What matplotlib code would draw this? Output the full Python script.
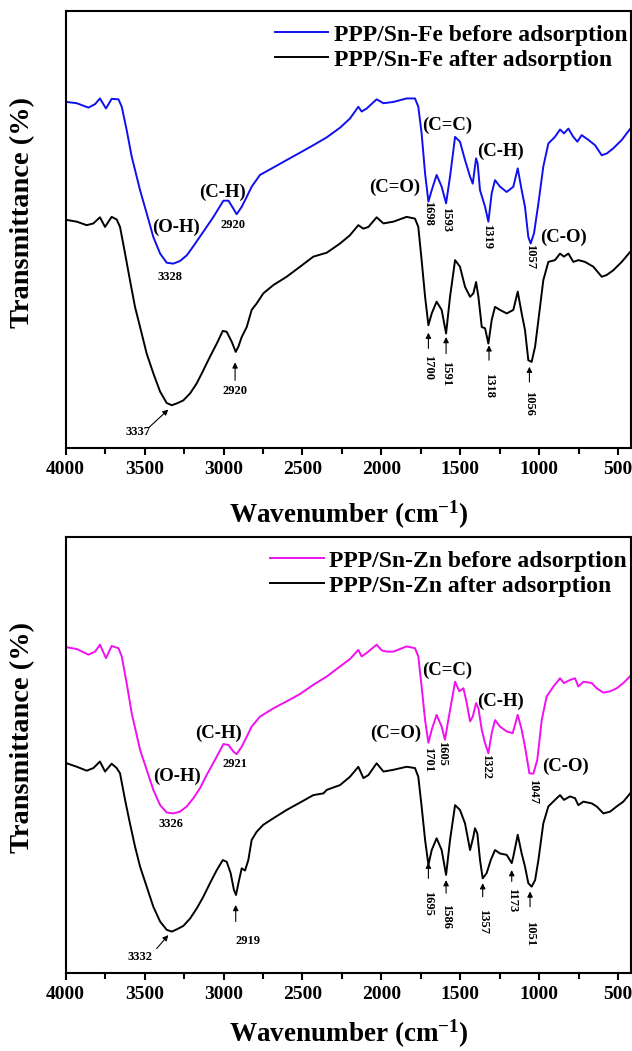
import numpy as np
import matplotlib
matplotlib.use("Agg")
import matplotlib.pyplot as plt

plt.rcParams["font.family"] = "Liberation Serif"
plt.rcParams["font.weight"] = "bold"
plt.rcParams["mathtext.fontset"] = "custom"
plt.rcParams["mathtext.rm"] = "Liberation Serif:bold"
plt.rcParams["mathtext.it"] = "Liberation Serif:bold:italic"
plt.rcParams["mathtext.bf"] = "Liberation Serif:bold"

# ---- PPP/Sn-Fe (top panel), wavenumber in cm-1, transmittance in arbitrary % ----
fe_before_wn = [3994, 3930, 3856, 3814, 3783, 3745, 3709, 3666, 3645,
                3614, 3582, 3529, 3487, 3445, 3402, 3360, 3318, 3276, 3233, 3191, 3128, 3064, 3001,
                2969, 2938, 2917, 2885, 2853, 2822, 2769, 2684, 2600, 2515, 2431, 2346,
                2262, 2199, 2146, 2125, 2093, 2030, 1987, 1924, 1840, 1787, 1766, 1745, 1723, 1702,
                1681, 1650, 1618, 1590, 1565, 1533, 1502, 1470, 1438, 1421, 1400, 1390, 1375, 1343,
                1322, 1301, 1280, 1248, 1206, 1164, 1136, 1111, 1090, 1069, 1054, 1033, 1005, 974,
                942, 900, 868, 843, 815, 784, 758, 731, 688, 646, 604, 572, 530, 477, 414]
fe_before_t = [79.2, 78.9, 77.9, 78.7, 80.0, 77.7, 79.9, 79.8, 78.1,
               72.8, 66.7, 59.0, 53.7, 48.3, 44.5, 42.4, 42.2, 42.8, 44.1, 46.2, 49.5, 52.9, 56.6,
               56.6, 54.8, 53.5, 55.2, 57.5, 59.8, 62.5, 64.2, 65.9, 67.6, 69.3, 71.1,
               73.3, 75.4, 78.1, 77.0, 77.7, 79.8, 78.9, 79.2, 80.0, 80.0, 78.1, 72.0, 62.8, 56.4,
               59.0, 62.5, 59.8, 56.0, 62.1, 71.2, 70.1, 65.9, 62.1, 60.5, 66.3, 65.1, 59.0, 55.2,
               51.8, 58.3, 61.3, 59.8, 58.6, 59.8, 64.0, 59.0, 55.2, 48.3, 46.8, 49.1, 56.0, 64.4,
               69.7, 71.2, 72.9, 72.0, 73.1, 71.2, 70.1, 71.6, 70.5, 69.3, 67.0, 67.4, 68.6, 70.5, 73.5]

fe_after_wn = [3994, 3930, 3867, 3825, 3783, 3751, 3709, 3677, 3656, 3624,
               3593, 3561, 3529, 3487, 3445, 3402, 3360, 3328, 3297, 3255,
               3212, 3170, 3128, 3086, 3043, 3005, 2980, 2948, 2923, 2906,
               2885, 2853, 2822, 2790, 2748, 2684, 2600, 2515, 2431, 2346,
               2262, 2199, 2146, 2114, 2082, 2030, 1987, 1924, 1840, 1787,
               1766, 1745, 1723, 1702, 1681, 1650, 1618, 1590, 1565, 1533,
               1502, 1470, 1438, 1417, 1400, 1385, 1364, 1343, 1322, 1301,
               1280, 1248, 1206, 1164, 1136, 1111, 1090, 1069, 1048, 1026,
               1005, 974, 942, 900, 868, 843, 815, 784, 752, 710,
               657, 604, 572, 530, 477, 414]
fe_after_t = [52.2, 51.8, 51.0, 51.4, 52.8, 50.6, 52.9, 52.3, 50.6, 44.5,
              38.4, 32.3, 27.7, 21.6, 17.1, 12.9, 10.3, 9.8, 10.2, 10.9,
              12.5, 14.8, 17.8, 20.9, 23.9, 26.8, 26.6, 24.3, 22.0, 23.2,
              25.4, 27.7, 31.6, 33.1, 35.4, 37.3, 39.2, 41.5, 43.8, 44.7,
              46.8, 48.7, 51.0, 50.2, 50.6, 52.8, 51.4, 51.8, 52.9, 52.5,
              50.6, 43.0, 34.6, 28.1, 30.8, 33.5, 31.6, 26.2, 34.6, 43.0,
              41.5, 36.9, 34.6, 35.4, 38.0, 34.6, 27.7, 27.4, 23.9, 29.3,
              32.3, 31.6, 30.8, 31.6, 35.8, 30.8, 27.0, 20.1, 19.7, 23.2,
              29.3, 38.4, 42.6, 43.0, 44.5, 43.8, 44.5, 42.6, 43.0, 42.6,
              41.5, 39.2, 39.6, 40.7, 42.6, 45.3]

# ---- PPP/Sn-Zn (bottom panel) ----
zn_before_wn = [3994, 3930, 3856, 3814, 3783, 3745, 3709, 3666, 3645, 3614,
                3582, 3529, 3487, 3445, 3402, 3360, 3318, 3276, 3233, 3191,
                3149, 3107, 3054, 3001, 2969, 2938, 2917, 2885, 2853, 2822,
                2769, 2684, 2600, 2515, 2431, 2346,
                2262, 2199, 2146, 2125, 2093, 2030, 1998, 1966, 1924, 1840,
                1787, 1766, 1745, 1723, 1702, 1681, 1650, 1618, 1597, 1576,
                1533, 1506, 1480, 1459, 1438, 1421, 1400, 1385, 1364, 1343,
                1322, 1301, 1280, 1248, 1206, 1168, 1136, 1111, 1090, 1062,
                1037, 1012, 984, 953, 910, 868, 843, 805, 773, 752,
                720, 667, 636, 593, 551, 509, 467, 414]
zn_before_t = [74.7, 74.3, 73.0, 73.7, 75.3, 72.2, 75.0, 74.5, 72.6, 66.5,
               59.6, 51.2, 46.6, 42.0, 38.5, 36.8, 36.6, 37.0, 38.2, 40.1,
               42.4, 45.4, 48.9, 52.5, 52.3, 50.8, 50.2, 51.9, 54.2, 56.5,
               58.8, 60.7, 62.3, 64.0, 66.1, 68.0,
               70.3, 72.0, 74.1, 72.6, 73.4, 75.3, 74.0, 73.7, 73.7, 74.9,
               74.5, 72.6, 65.7, 58.0, 52.8, 55.8, 59.2, 56.5, 53.5, 58.0,
               66.8, 64.6, 65.3, 61.9, 57.7, 58.8, 61.9, 60.7, 55.8, 52.7,
               50.4, 55.0, 58.0, 56.5, 55.4, 55.0, 59.2, 55.8, 51.9, 45.8,
               45.7, 48.9, 58.0, 63.4, 65.7, 67.6, 66.5, 67.2, 67.6, 65.7,
               66.8, 66.5, 65.3, 64.3, 64.6, 65.3, 66.5, 68.4]

zn_after_wn = [3994, 3930, 3867, 3825, 3783, 3751, 3709, 3677, 3656, 3624,
               3593, 3561, 3529, 3487, 3445, 3402, 3360, 3328, 3297, 3255,
               3212, 3170, 3128, 3086, 3043, 3005, 2980, 2955, 2934, 2921,
               2906, 2885, 2864, 2843, 2822, 2790, 2748, 2684, 2600, 2515,
               2431, 2367, 2346,
               2262, 2199, 2146, 2114, 2082, 2030, 1987, 1924, 1840, 1787,
               1766, 1745, 1723, 1702, 1681, 1650, 1618, 1590, 1565, 1533,
               1502, 1470, 1438, 1417, 1407, 1392, 1375, 1358, 1333, 1307,
               1280, 1248, 1206, 1174, 1164, 1136, 1111, 1090, 1069, 1048,
               1026, 1005, 974, 942, 900, 868, 843, 805, 773, 752,
               720, 667, 636, 593, 551, 509, 467, 414]
zn_after_t = [48.1, 47.3, 46.4, 47.0, 48.5, 46.2, 48.0, 47.0, 45.8, 39.7,
              34.3, 29.0, 24.4, 19.8, 15.2, 11.8, 9.9, 9.5, 10.0, 10.8,
              12.5, 14.8, 17.5, 20.6, 23.6, 25.9, 25.5, 22.9, 19.0, 17.9,
              20.6, 24.0, 23.5, 25.9, 30.5, 32.4, 34.0, 35.5, 37.4, 39.1,
              40.8, 41.2, 42.0,
              43.1, 45.0, 47.3, 44.7, 45.4, 48.1, 46.2, 46.6, 47.3, 47.0,
              45.0, 38.2, 30.5, 24.8, 28.2, 30.9, 28.2, 22.5, 30.5, 38.5,
              37.4, 34.3, 28.2, 31.3, 33.2, 32.0, 25.9, 21.7, 22.9, 25.9,
              28.2, 27.4, 27.1, 25.2, 26.7, 31.7, 27.4, 24.4, 20.6, 19.8,
              21.3, 25.9, 34.3, 38.2, 39.7, 40.8, 39.7, 40.5, 40.1, 38.5,
              39.3, 38.9, 38.2, 36.6, 37.0, 38.2, 39.3, 41.6]

x_ticks = [4000, 3500, 3000, 2500, 2000, 1500, 1000, 500]


def style(ax, xpad):
    ax.set_xlim(4000, 418)
    ax.set_ylim(0, 100)
    ax.set_xticks(x_ticks)
    ax.set_xticks([3750, 3250, 2750, 2250, 1750, 1250, 750], minor=True)
    ax.set_yticks([])
    ax.tick_params(axis="x", which="both", direction="out", width=1.5, labelsize=14, pad=4)
    ax.tick_params(axis="x", which="major", length=5)
    ax.tick_params(axis="x", which="minor", length=4)
    for s in ax.spines.values():
        s.set_linewidth(1.5)
    ax.set_xlabel("Wavenumber (cm$^{-1}$)", fontsize=19.5, fontweight="bold", labelpad=xpad)
    ax.set_ylabel("Transmittance (%)", fontsize=20.5, fontweight="bold")
    ax.yaxis.set_label_coords(-0.055, 0.54)


def legend(ax):
    ax.legend(loc="upper right", bbox_to_anchor=(1.014, 0.997), frameon=False, fontsize=17,
              handlelength=2.25, handletextpad=0.25, labelspacing=0.15, borderaxespad=0.1)


def group(ax, x, y, s):
    ax.text(x, y, s, ha="center", va="center", fontsize=13.5)


def num(ax, x, y, s, rot=0):
    ax.text(x, y, s, ha="center", va="center", fontsize=9, rotation=rot)


def arrow(ax, x0, y0, x1, y1):
    ax.annotate("", xy=(x1, y1), xytext=(x0, y0),
                arrowprops=dict(arrowstyle="-|>", color="k", lw=0.8, mutation_scale=8,
                                shrinkA=0, shrinkB=0))


fig = plt.figure(figsize=(6.32, 10.51), dpi=100)
ax1 = fig.add_axes([0.104, 0.5737, 0.8945, 0.4158])
ax2 = fig.add_axes([0.104, 0.0742, 0.8945, 0.4149])

# top panel
ax1.plot(fe_before_wn, fe_before_t, color="#1010ee", lw=1.4, label="PPP/Sn-Fe before adsorption")
ax1.plot(fe_after_wn, fe_after_t, color="black", lw=1.4, label="PPP/Sn-Fe after adsorption")
style(ax1, 15)
legend(ax1)
group(ax1, 3303, 50.6, "(O-H)")
group(ax1, 3007, 58.6, "(C-H)")
group(ax1, 1913, 59.6, "(C=O)")
group(ax1, 1582, 73.9, "(C=C)")
group(ax1, 1248, 67.8, "(C-H)")
group(ax1, 847, 48.3, "(C-O)")
num(ax1, 3339, 39.2, "3328")
num(ax1, 2938, 51.0, "2920")
num(ax1, 1702, 53.7, "1698", -90)
num(ax1, 1590, 52.2, "1593", -90)
num(ax1, 1333, 48.3, "1319", -90)
num(ax1, 1058, 43.8, "1057", -90)
num(ax1, 3545, 3.6, "3337")
arrow(ax1, 3470, 4.8, 3350, 8.8)
num(ax1, 2927, 13.1, "2920")
arrow(ax1, 2927, 15.5, 2927, 19.6)
for lab, x, head, tail, ty in [("1700", 1702, 26.4, 22.8, 18.4),
                               ("1591", 1590, 25.4, 21.6, 17.1),
                               ("1318", 1318, 23.5, 20.1, 14.4),
                               ("1056", 1062, 18.6, 15.1, 10.2)]:
    arrow(ax1, x, tail, x, head)
    num(ax1, x, ty, lab, -90)

# bottom panel
ax2.plot(zn_before_wn, zn_before_t, color="#f010f0", lw=1.4, label="PPP/Sn-Zn before adsorption")
ax2.plot(zn_after_wn, zn_after_t, color="black", lw=1.4, label="PPP/Sn-Zn after adsorption")
style(ax2, 11)
legend(ax2)
group(ax2, 3297, 45.0, "(O-H)")
group(ax2, 3029, 55.0, "(C-H)")
group(ax2, 1907, 55.0, "(C=O)")
group(ax2, 1582, 69.4, "(C=C)")
group(ax2, 1244, 62.3, "(C-H)")
group(ax2, 836, 47.3, "(C-O)")
num(ax2, 3335, 34.2, "3326")
num(ax2, 2927, 48.0, "2921")
num(ax2, 1707, 48.9, "1701", -90)
num(ax2, 1618, 50.4, "1605", -90)
num(ax2, 1339, 47.3, "1322", -90)
num(ax2, 1037, 41.6, "1047", -90)
num(ax2, 3529, 3.7, "3332")
arrow(ax2, 3424, 5.6, 3350, 8.7)
num(ax2, 2843, 7.4, "2919")
arrow(ax2, 2923, 11.8, 2923, 15.6)
for lab, x, head, tail, ty in [("1695", 1702, 25.3, 21.7, 16.0),
                               ("1586", 1590, 21.3, 18.3, 12.9),
                               ("1357", 1358, 20.6, 17.5, 11.8),
                               ("1173", 1174, 23.6, 21.0, 16.7),
                               ("1051", 1058, 18.7, 15.2, 9.1)]:
    arrow(ax2, x, tail, x, head)
    num(ax2, x, ty, lab, -90)

fig.savefig("out.png", dpi=100)
